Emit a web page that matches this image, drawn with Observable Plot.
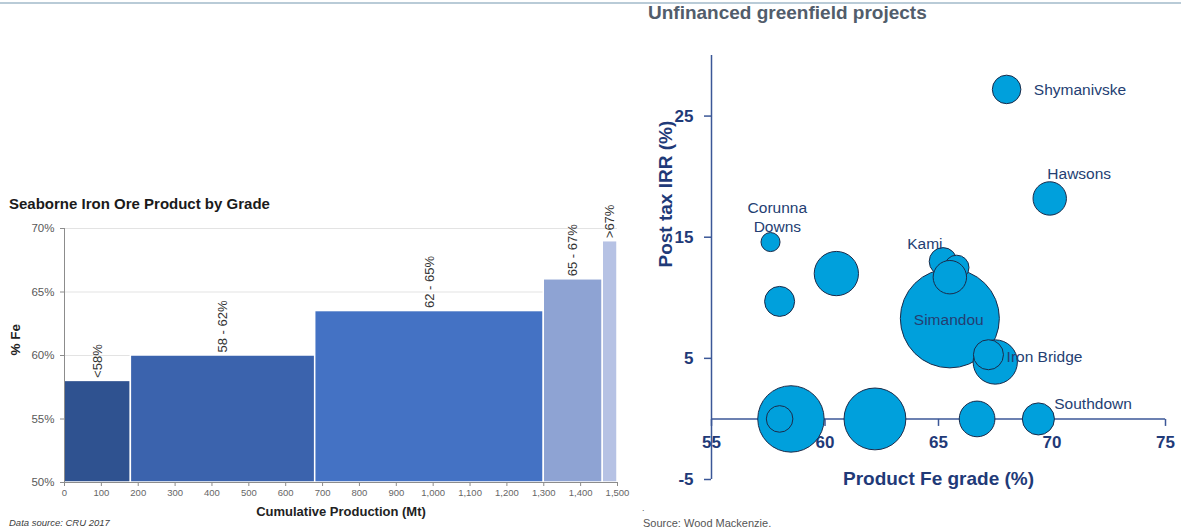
<!DOCTYPE html>
<html>
<head>
<meta charset="utf-8">
<script src="https://cdn.jsdelivr.net/npm/d3@7"></script>
<script src="https://cdn.jsdelivr.net/npm/@observablehq/plot@0.6"></script>
<style>
  html, body { margin: 0; padding: 0; background: #fff; }
  #page { position: relative; width: 1181px; height: 532px; overflow: hidden;
          font-family: "Liberation Sans", Arial, sans-serif; }
  .abs { position: absolute; white-space: nowrap; line-height: 1.15; }
</style>
</head>
<body>
<div id="page">
  <div class="abs" style="left:0;top:2px;width:1181px;height:2px;background:#b9cbd7"></div>
  <div class="abs" style="left:9px;top:195px;font-size:15px;font-weight:bold;color:#1a1a1a">Seaborne Iron Ore Product by Grade</div>
  <div id="left" class="abs" style="left:0;top:215px"></div>
  <div class="abs" style="left:9px;top:518px;font-size:9.5px;font-style:italic;color:#404040">Data source: CRU 2017</div>

  <div class="abs" style="left:648px;top:2px;font-size:19px;font-weight:bold;color:#525d6b">Unfinanced greenfield projects</div>
  <div id="right" class="abs" style="left:640px;top:40px"></div>
  <div class="abs" style="left:642px;top:503px;font-size:9px;color:#555">.</div>
  <div class="abs" style="left:643px;top:517px;font-size:11px;color:#555">Source: Wood Mackenzie.</div>
</div>
<script>
// ---- Seaborne iron ore product by grade (cumulative production, Mt) ----
const gradeBands = ["<58%", "58 - 62%", "62 - 65%", "65 - 67%", ">67%"];
const bandStart = [0, 180, 680, 1300, 1460];
const bandEnd = [180, 680, 1300, 1460, 1500];
const bandFe = [58, 60, 63.5, 66, 69];
const bandColors = ["#2f5290", "#3b63ad", "#4472c4", "#8ea3d3", "#b6c2e4"];
const feTicks = [50, 55, 60, 65, 70];
const productionTicks = d3.range(0, 1501, 100);

// ---- Unfinanced greenfield projects ----
// grade (% Fe), post-tax IRR (%), relative bubble size; listed in drawing order
const projectGrade = [65.5, 58.5, 62.2, 60.5, 67.5, 65.2, 65.8, 65.5, 67.2, 66.7, 69.9, 69.4, 58.0, 68.0, 58.0, 57.6];
const projectIrr   = [8.3, 0, 0, 12.0, 4.7, 13.0, 12.5, 11.7, 5.3, 0, 18.2, 0, 9.7, 27.2, 0, 14.6];
const projectSize  = [100, 45, 39, 20, 20, 7.8, 6.2, 11.4, 9.2, 13, 11.4, 10.5, 9.2, 8.3, 7.2, 3.7];

const labelNames = ["Shymanivske", "Hawsons", "Corunna\nDowns", "Kami", "Simandou", "Iron Bridge", "Southdown"];
const labelGrade = [69.2, 71.2, 57.9, 64.4, 65.45, 68.0, 70.1];
const labelIrr   = [27.2, 20.3, 16.7, 14.55, 8.2, 5.2, 1.3];
const labelAlign = ["start", "middle", "middle", "middle", "middle", "start", "start"];

const gradeTicks = [55, 60, 65, 70, 75];
const irrTicks = [-5, 5, 15, 25];

const font = "Liberation Sans, Arial, sans-serif";

// left chart: variable-width bars
const bands = gradeBands.map((label, i) => ({label, x1: bandStart[i], x2: bandEnd[i], fe: bandFe[i]}));

const left = Plot.plot({
  width: 640, height: 310,
  marginTop: 13, marginBottom: 43, marginLeft: 64, marginRight: 23,
  style: {fontFamily: font, background: "transparent", overflow: "visible"},
  x: {domain: [0, 1500]},
  y: {domain: [50, 70]},
  color: {domain: gradeBands, range: bandColors},
  marks: [
    Plot.gridY(feTicks, {stroke: "#e3e3e3", strokeOpacity: 1}),
    Plot.rect(bands, {x1: "x1", x2: "x2", y1: 50, y2: "fe", fill: "label", stroke: "#fff", strokeWidth: 1.5}),
    Plot.ruleX([0], {stroke: "#8c8c8c"}),
    Plot.ruleY([50], {stroke: "#8c8c8c"}),
    Plot.axisY(feTicks, {tickSize: 4, tickPadding: 6, tickFormat: d => d + "%", fontSize: 11.5,
                         fill: "#595959", stroke: "#8c8c8c", label: null}),
    Plot.axisX(productionTicks, {tickSize: 4, tickPadding: 3, tickFormat: d3.format(","), fontSize: 9.5,
                                 fill: "#666", stroke: "#8c8c8c", label: null}),
    Plot.text(bands, {x: d => (d.x1 + d.x2) / 2, y: "fe", text: "label", rotate: -90,
                      textAnchor: "start", dy: -3, fontSize: 13, fill: "#333"}),
    Plot.text(["Cumulative Production (Mt)"], {frameAnchor: "bottom", lineAnchor: "bottom", dy: 33,
                      fontSize: 13, fontWeight: "bold", fill: "#222"}),
    Plot.text(["% Fe"], {frameAnchor: "left", dx: -49, rotate: -90, fontSize: 13.5,
                      fontWeight: "bold", fill: "#222"})
  ]
});
document.getElementById("left").append(left);

// right chart: bubble scatter
const projects = projectGrade.map((g, i) => ({grade: g, irr: projectIrr[i], size: projectSize[i]}));
const labels = labelNames.map((name, i) => ({name, grade: labelGrade[i], irr: labelIrr[i], align: labelAlign[i]}));

const navy = "#1f3a78";
const axisColor = "#3b5797";
const tickDown = {draw(context) { context.moveTo(0, 0); context.lineTo(0, 7); }};
const labelStyle = {x: "grade", y: "irr", text: "name", fontSize: 15.5, lineHeight: 1.18, fill: "#243e72"};

const right = Plot.plot({
  width: 541, height: 460,
  marginTop: 15, marginBottom: 21, marginLeft: 71, marginRight: 16,
  style: {fontFamily: font, background: "transparent", overflow: "visible"},
  x: {domain: [55, 75], axis: null},
  y: {domain: [-5, 30]},
  r: {type: "sqrt", domain: [0, 100], range: [0, 49.5]},
  marks: [
    Plot.ruleY([0], {stroke: axisColor, strokeWidth: 1.5}),
    Plot.dot(gradeTicks, {x: d => d, y: 0, symbol: tickDown, stroke: axisColor, strokeWidth: 1.5, fill: "none"}),
    Plot.text(gradeTicks, {x: d => d, y: 0, dy: 24, text: d => String(d), fontSize: 17,
                           fontWeight: "bold", fill: navy}),
    Plot.axisY(irrTicks, {tickSize: 7, tickPadding: 11, tickFormat: d => String(d), fontSize: 17,
                          fontWeight: "bold", fill: navy, stroke: axisColor, strokeWidth: 1.5, label: null}),
    Plot.ruleX([55], {stroke: axisColor, strokeWidth: 1.5}),
    Plot.dot(projects, {x: "grade", y: "irr", r: "size", fill: "#00a0dc", fillOpacity: 1,
                        stroke: "#1b2b4a", strokeWidth: 1, sort: null}),
    Plot.text(labels, {...labelStyle, filter: d => d.align === "start", textAnchor: "start"}),
    Plot.text(labels, {...labelStyle, filter: d => d.align === "middle", textAnchor: "middle"}),
    Plot.text(["Product Fe grade (%)"], {frameAnchor: "bottom", lineAnchor: "bottom", dy: 5,
                       fontSize: 19, fontWeight: "bold", fill: navy}),
    Plot.text(["Post tax IRR (%)"], {frameAnchor: "left", dx: -46, rotate: -90, fontSize: 19,
                       fontWeight: "bold", fill: navy})
  ]
});
document.getElementById("right").append(right);
</script>
</body>
</html>
